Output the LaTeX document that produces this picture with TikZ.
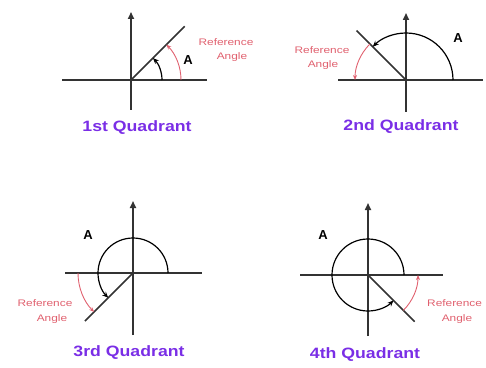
\documentclass[tikz,border=0pt]{standalone}
\usepackage{fontspec}
\setmainfont{Liberation Sans}
\newfontfamily\titlefont[FakeStretch=1.18]{Liberation Sans}
\newfontfamily\reffont[FakeStretch=1.25]{Liberation Sans}
\usetikzlibrary{arrows.meta,calc}
\definecolor{axisgray}{HTML}{333333}
\definecolor{refred}{HTML}{E0606E}
\definecolor{titlepurple}{HTML}{7A2EE6}
\begin{document}
\begin{tikzpicture}[x=1pt,y=1pt,
  axisline/.style={draw=axisgray,line width=1.6pt},
  yaxis/.style={axisline,-{Triangle[length=7pt,width=6pt]}},
  rayline/.style={draw=axisgray,line width=1.6pt},
  anglearc/.style={draw=black,line width=1.2pt,-{Stealth[length=6pt,width=5pt]}},
  refarc/.style={draw=refred,line width=0.9pt,-{Stealth[length=5pt,width=4pt]}},
  reftext/.style={text=refred,font=\reffont\fontsize{9.5}{10}\selectfont,inner sep=0pt},
  alabel/.style={font=\fontsize{13}{13}\selectfont\bfseries,inner sep=0pt},
  title/.style={text=titlepurple,font=\titlefont\fontsize{15}{15}\selectfont\bfseries,inner sep=0pt}]
\useasboundingbox (0,0) rectangle (486,367);
% ---------- 1st quadrant ----------
\coordinate (o1) at (131,287);
\coordinate (o1t) at (131,355);
\coordinate (o1b) at (131,257);
\coordinate (o1l) at (62,287);
\coordinate (o1r) at (207,287);
\coordinate (o1ray) at ($(o1)+(45:76)$);
\draw[axisline] (o1l) -- (o1r);
\draw[yaxis] (o1b) -- (o1t);
\draw[rayline] (o1) -- (o1ray);
\draw[anglearc] ($(o1)+(0:31)$) arc[start angle=0,end angle=45,radius=31];
\draw[refarc] ($(o1)+(0:50)$) arc[start angle=0,end angle=45,radius=50];
\node[alabel] (a1) at (188,307) {A};
\node[reftext] (r1a) at (226,325) {Reference};
\node[reftext] (r1b) at (232,310) {Angle};
\node[title] (t1) at (137,239) {1st Quadrant};
% ---------- 2nd quadrant ----------
\coordinate (o2) at (406,287);
\coordinate (o2t) at (406,354);
\coordinate (o2b) at (406,255);
\coordinate (o2l) at (338,287);
\coordinate (o2r) at (483,287);
\coordinate (o2ray) at ($(o2)+(135:70)$);
\draw[axisline] (o2l) -- (o2r);
\draw[yaxis] (o2b) -- (o2t);
\draw[rayline] (o2) -- (o2ray);
\draw[anglearc] ($(o2)+(0:47)$) arc[start angle=0,end angle=135,radius=47];
\draw[refarc] ($(o2)+(135:51)$) arc[start angle=135,end angle=180,radius=51];
\node[alabel] (a2) at (458,329) {A};
\node[reftext] (r2a) at (322,317) {Reference};
\node[reftext] (r2b) at (323,302) {Angle};
\node[title] (t2) at (401,240) {2nd Quadrant};
% ---------- 3rd quadrant ----------
\coordinate (o3) at (133,94);
\coordinate (o3t) at (133,166);
\coordinate (o3b) at (133,32);
\coordinate (o3l) at (65,94);
\coordinate (o3r) at (202,94);
\coordinate (o3ray) at ($(o3)+(225:68)$);
\draw[axisline] (o3l) -- (o3r);
\draw[yaxis] (o3b) -- (o3t);
\draw[rayline] (o3) -- (o3ray);
\draw[anglearc] ($(o3)+(0:35)$) arc[start angle=0,end angle=225,radius=35];
\draw[refarc] ($(o3)+(180:55)$) arc[start angle=180,end angle=225,radius=55];
\node[alabel] (a3) at (88,132) {A};
\node[reftext] (r3a) at (45,64) {Reference};
\node[reftext] (r3b) at (52,48) {Angle};
\node[title] (t3) at (129,14) {3rd Quadrant};
% ---------- 4th quadrant ----------
\coordinate (o4) at (368,92);
\coordinate (o4t) at (368,164);
\coordinate (o4b) at (368,31);
\coordinate (o4l) at (300,92);
\coordinate (o4r) at (443,92);
\coordinate (o4ray) at ($(o4)+(315:66)$);
\draw[axisline] (o4l) -- (o4r);
\draw[yaxis] (o4b) -- (o4t);
\draw[rayline] (o4) -- (o4ray);
\draw[anglearc] ($(o4)+(0:36)$) arc[start angle=0,end angle=315,radius=36];
\draw[refarc] ($(o4)+(315:50)$) arc[start angle=315,end angle=360,radius=50];
\node[alabel] (a4) at (323,132) {A};
\node[reftext,anchor=west] (r4a) at (427,64) {Reference};
\node[reftext] (r4b) at (457,48) {Angle};
\node[title] (t4) at (365,12) {4th Quadrant};
\end{tikzpicture}
\end{document}
